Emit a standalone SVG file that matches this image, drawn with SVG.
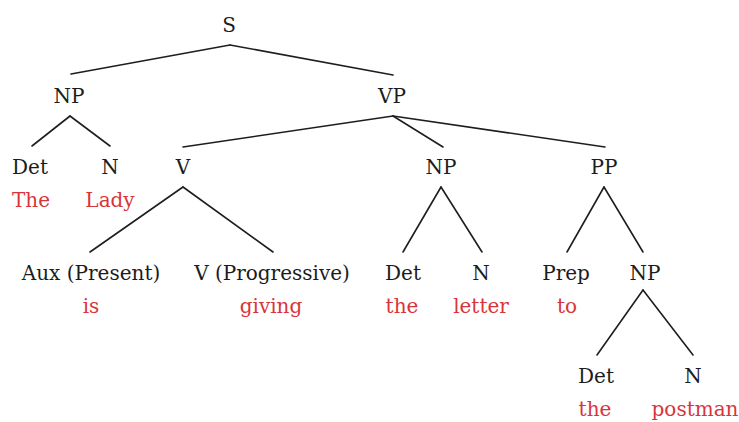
<svg xmlns="http://www.w3.org/2000/svg" width="739" height="422" viewBox="0 0 739 422">
  <style>
    text { font-family: "DejaVu Serif", serif; font-size: 20px; text-anchor: middle; }
    .cat { fill: #1c1c1c; }
    .word { fill: #d8353a; }
    .edge { stroke: #1e1e1e; stroke-width: 1.6; stroke-linecap: round; fill: none; }
  </style>
  <rect width="739" height="422" fill="#ffffff"/>

  <!-- tree branches -->
  <g id="connectors">
    <line class="edge" x1="230" y1="45" x2="71" y2="74"/>
    <line class="edge" x1="230" y1="45" x2="393" y2="75"/>
    <line class="edge" x1="70" y1="116" x2="32" y2="146"/>
    <line class="edge" x1="70" y1="116" x2="110" y2="146"/>
    <line class="edge" x1="393" y1="116" x2="183" y2="147"/>
    <line class="edge" x1="393" y1="116" x2="443" y2="147"/>
    <line class="edge" x1="393" y1="116" x2="605" y2="147"/>
    <line class="edge" x1="183" y1="187" x2="90" y2="252"/>
    <line class="edge" x1="183" y1="187" x2="273" y2="252"/>
    <line class="edge" x1="441" y1="187" x2="403" y2="252"/>
    <line class="edge" x1="441" y1="187" x2="482" y2="252"/>
    <line class="edge" x1="604" y1="187" x2="567" y2="252"/>
    <line class="edge" x1="604" y1="187" x2="643" y2="252"/>
    <line class="edge" x1="643" y1="290" x2="597" y2="355"/>
    <line class="edge" x1="643" y1="290" x2="693" y2="355"/>
  </g>

  <!-- phrase nodes -->
  <g id="S"><text class="cat" x="229" y="32">S</text></g>
  <g id="NP-subject"><text class="cat" x="69" y="103">NP</text></g>
  <g id="VP"><text class="cat" x="392" y="103">VP</text></g>

  <g id="Det-the-lady"><text class="cat" x="30" y="174">Det</text><text class="word" x="31" y="207">The</text></g>
  <g id="N-lady"><text class="cat" x="110" y="174">N</text><text class="word" x="110" y="207">Lady</text></g>
  <g id="V"><text class="cat" x="183" y="174">V</text></g>
  <g id="NP-object"><text class="cat" x="441" y="174">NP</text></g>
  <g id="PP"><text class="cat" x="604" y="174">PP</text></g>

  <g id="Aux"><text class="cat" x="91" y="280">Aux (Present)</text><text class="word" x="91" y="313">is</text></g>
  <g id="V-progressive"><text class="cat" x="272" y="280">V (Progressive)</text><text class="word" x="271" y="313">giving</text></g>
  <g id="Det-letter"><text class="cat" x="403" y="280">Det</text><text class="word" x="402" y="313">the</text></g>
  <g id="N-letter"><text class="cat" x="481" y="280">N</text><text class="word" x="481" y="313">letter</text></g>
  <g id="Prep"><text class="cat" x="566" y="280">Prep</text><text class="word" x="567" y="313">to</text></g>
  <g id="NP-postman"><text class="cat" x="645" y="280">NP</text></g>

  <g id="Det-postman"><text class="cat" x="596" y="383">Det</text><text class="word" x="595" y="416">the</text></g>
  <g id="N-postman"><text class="cat" x="693" y="383">N</text><text class="word" x="695" y="416">postman</text></g>
</svg>
